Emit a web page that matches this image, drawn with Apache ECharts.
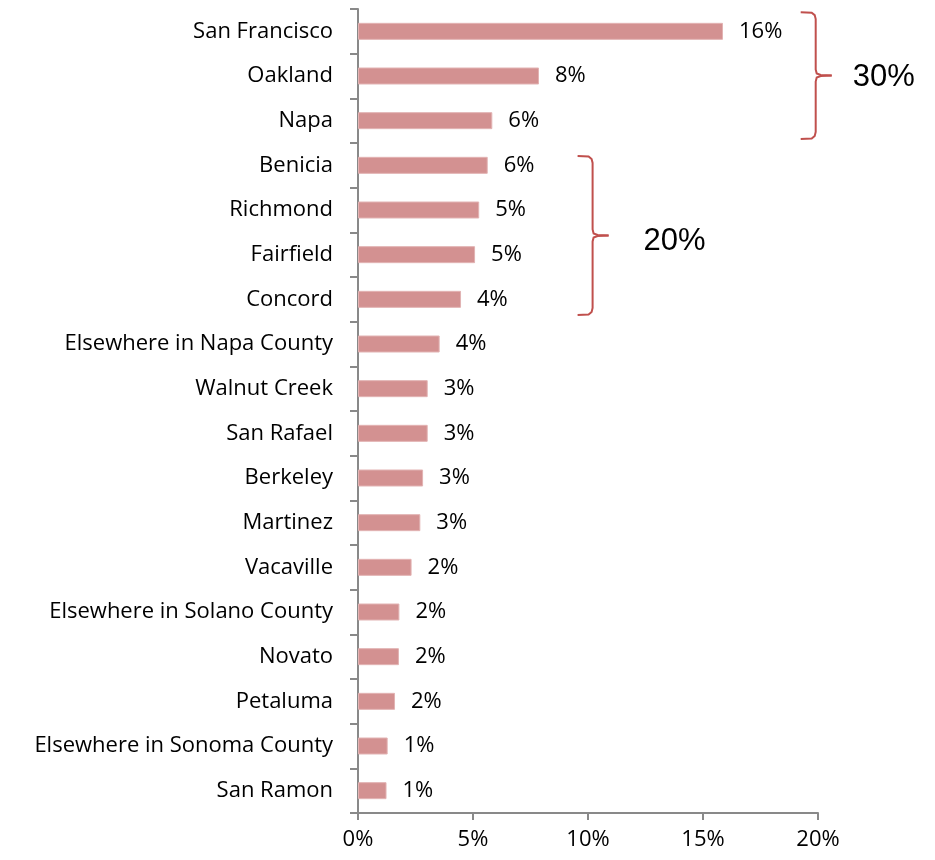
<!DOCTYPE html>
<html>
<head>
<meta charset="utf-8">
<script src="https://cdn.jsdelivr.net/npm/echarts@6/dist/echarts.min.js"></script>
<style>
  html, body { margin: 0; padding: 0; background: #fff; }
  #main { width: 935px; height: 860px; }
</style>
</head>
<body>
<div id="main"></div>
<script>
// cities, top to bottom
var cities = ['San Francisco', 'Oakland', 'Napa', 'Benicia', 'Richmond', 'Fairfield', 'Concord',
  'Elsewhere in Napa County', 'Walnut Creek', 'San Rafael', 'Berkeley', 'Martinez', 'Vacaville',
  'Elsewhere in Solano County', 'Novato', 'Petaluma', 'Elsewhere in Sonoma County', 'San Ramon'];
// share of respondents, %
var shares = [15.87, 7.87, 5.84, 5.64, 5.27, 5.09, 4.48, 3.55, 3.03, 3.03, 2.83, 2.71, 2.33, 1.8, 1.78, 1.61, 1.29, 1.24];
var xTicks = [0, 5, 10, 15, 20];
// brace groups: first / last city, label, x position (axis value)
var groupStart = [0, 3];
var groupEnd = [2, 6];
var groupLabel = ['30%', '20%'];
var groupX = [19.9, 10.2];

var labelFont = '"Open Sans", sans-serif';
var myChart = echarts.init(document.getElementById('main'));

var option = {
  animation: false,
  grid: { left: 358, right: 117, top: 9, bottom: 47 },
  xAxis: {
    type: 'value',
    min: xTicks[0],
    max: xTicks[xTicks.length - 1],
    interval: 5,
    splitLine: { show: false },
    axisLine: { show: true, lineStyle: { color: '#898989', width: 2 } },
    axisTick: { show: true, length: 7, lineStyle: { color: '#898989', width: 2 } },
    axisLabel: {
      formatter: '{value}%', margin: 16,
      color: '#000', fontSize: 22, fontFamily: labelFont
    }
  },
  yAxis: {
    type: 'category',
    inverse: true,
    data: cities,
    axisLine: { show: true, lineStyle: { color: '#898989', width: 2 } },
    axisTick: { show: true, length: 8, lineStyle: { color: '#898989', width: 2 } },
    axisLabel: { margin: 25, color: '#000', fontSize: 22, fontFamily: labelFont }
  },
  series: [{
    type: 'bar',
    data: shares,
    barWidth: 17,
    itemStyle: { color: '#d39191', borderColor: '#e2b3b3', borderWidth: 1 },
    label: {
      show: true,
      position: 'right',
      distance: 16,
      color: '#000',
      fontSize: 22,
      fontFamily: labelFont,
      formatter: function (p) { return Math.round(p.value) + '%'; }
    }
  }]
};
myChart.setOption(option);

// braces drawn from the axis scales
function braceStyle() {
  return { fill: 'none', stroke: '#c0504d', lineWidth: 2 };
}
// how far each brace reaches past its first/last bar, in bands
var padTop = [0.43, 0.21];
var padBot = [0.41, 0.35];
var textGap = [37, 51];
var textDy = [0, 4];

var graphics = [];
var band = myChart.convertToPixel({ yAxisIndex: 0 }, 1) - myChart.convertToPixel({ yAxisIndex: 0 }, 0);
for (var i = 0; i < groupLabel.length; i++) {
  var bx = myChart.convertToPixel({ xAxisIndex: 0 }, groupX[i]);
  var yTop = myChart.convertToPixel({ yAxisIndex: 0 }, groupStart[i]) - band * padTop[i];
  var yBot = myChart.convertToPixel({ yAxisIndex: 0 }, groupEnd[i]) + band * padBot[i];
  var yMid = (yTop + yBot) / 2;
  graphics.push({
    type: 'polyline',
    shape: { points: [[bx - 15, yTop], [bx - 4, yTop + 0.5], [bx - 1, yTop + 3], [bx, yTop + 7], [bx, yMid - 6], [bx + 1, yMid - 2], [bx + 5, yMid - 0.5], [bx + 16, yMid]] },
    style: braceStyle()
  });
  graphics.push({
    type: 'polyline',
    shape: { points: [[bx + 16, yMid], [bx + 5, yMid + 0.5], [bx + 1, yMid + 2], [bx, yMid + 6], [bx, yBot - 7], [bx - 1, yBot - 3], [bx - 4, yBot - 0.5], [bx - 15, yBot]] },
    style: braceStyle()
  });
  graphics.push({
    type: 'text',
    x: bx + textGap[i],
    y: yMid + 2 + textDy[i],
    style: {
      text: groupLabel[i], fill: '#000', fontSize: 31,
      fontFamily: '"Liberation Sans", Arial, sans-serif',
      verticalAlign: 'middle', align: 'left'
    }
  });
}
myChart.setOption({ graphic: { elements: graphics } });
</script>
</body>
</html>
